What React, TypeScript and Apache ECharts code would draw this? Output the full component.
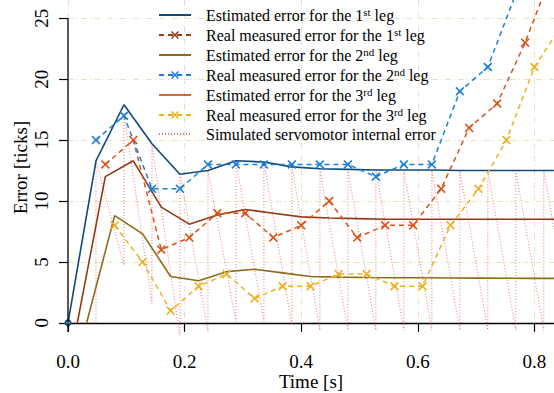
import React, { useEffect, useRef } from 'react';
import * as echarts from 'echarts';

const FONT = '"Liberation Serif", "Times New Roman", serif';

const seriesNames = [
  'Estimated error for the 1st leg',
  'Real measured error for the 1st leg',
  'Estimated error for the 2nd leg',
  'Real measured error for the 2nd leg',
  'Estimated error for the 3rd leg',
  'Real measured error for the 3rd leg',
  'Simulated servomotor internal error',
];

const xTicks = [0, 0.2, 0.4, 0.6, 0.8];
const yTicks = [0, 5, 10, 15, 20, 25];
const yAxisLineSpan = [-0.75, 25];

// Estimated error, dark blue
const estBlueTimes = [0, 0.048, 0.096, 0.144, 0.192, 0.24, 0.288, 0.336, 0.384, 0.432, 0.48, 0.528, 0.576, 0.624, 0.672, 0.72, 0.768, 0.816, 0.864];
const estBlueValues = [0, 13.3, 17.9, 14.7, 12.2, 12.5, 13.3, 13.2, 12.8, 12.65, 12.6, 12.55, 12.55, 12.55, 12.5, 12.5, 12.5, 12.5, 12.5];

// Estimated error, dark orange
const estBrownTimes = [0.016, 0.064, 0.112, 0.16, 0.208, 0.256, 0.304, 0.352, 0.4, 0.448, 0.496, 0.544, 0.592, 0.64, 0.688, 0.736, 0.784, 0.832, 0.88];
const estBrownValues = [0, 12.0, 13.3, 9.5, 8.1, 8.85, 9.3, 9.0, 8.7, 8.6, 8.55, 8.5, 8.5, 8.5, 8.5, 8.5, 8.5, 8.5, 8.5];

// Estimated error, dark yellow
const estOliveTimes = [0.032, 0.08, 0.128, 0.176, 0.224, 0.272, 0.32, 0.368, 0.416, 0.464, 0.512, 0.56, 0.608, 0.656, 0.704, 0.752, 0.8, 0.848];
const estOliveValues = [0, 8.8, 7.3, 3.8, 3.45, 4.2, 4.4, 4.1, 3.8, 3.75, 3.72, 3.7, 3.7, 3.68, 3.67, 3.66, 3.65, 3.65];

// Measured, blue crosses
const measBlueTimes = [0.048, 0.096, 0.144, 0.192, 0.24, 0.288, 0.336, 0.384, 0.432, 0.48, 0.528, 0.576, 0.624, 0.672, 0.72, 0.768];
const measBlueValues = [15, 17, 11, 11, 13, 13, 13, 13, 13, 13, 12, 13, 13, 19, 21, 27];

// Measured, orange crosses
const measOrangeTimes = [0.064, 0.112, 0.16, 0.208, 0.256, 0.304, 0.352, 0.4, 0.448, 0.496, 0.544, 0.592, 0.64, 0.688, 0.736, 0.784, 0.832];
const measOrangeValues = [13, 15, 6, 7, 9, 9, 7, 8, 10, 7, 8, 8, 11, 16, 18, 23, 29];

// Measured, yellow crosses
const measYellowTimes = [0.08, 0.128, 0.176, 0.224, 0.272, 0.32, 0.368, 0.416, 0.464, 0.512, 0.56, 0.608, 0.656, 0.704, 0.752, 0.8, 0.848];
const measYellowValues = [8, 5, 1, 3, 4, 2, 3, 3, 4, 4, 3, 3, 8, 11, 15, 21, 24.5];

// Simulated servomotor internal error (sawtooth): jump times, peaks, troughs
const sawTimes = [0.048, 0.096, 0.144, 0.192, 0.24, 0.288, 0.336, 0.384, 0.432, 0.48, 0.528, 0.576, 0.624, 0.672, 0.72, 0.768, 0.816, 0.864];
const sawPeaks = [13.3, 17.2, 14.6, 12.3, 12.5, 13.3, 13.2, 12.8, 12.6, 12.6, 12.55, 12.5, 12.5, 12.5, 12.5, 12.5, 12.5];
const sawTroughs = [0, 4.7, 1.6, -1.2, -0.7, 0.1, 0.1, -0.2, -0.6, -0.6, -0.6, -0.6, -0.6, -0.6, -0.6, -0.6, -0.6, -0.6];
const sawStart = [0, 0];

const C_EST_BLUE = '#0E4A7C';
const C_EST_BROWN = '#8E3A17';
const C_EST_OLIVE = '#8C6B1C';
const C_BLUE = '#1A7FD4';
const C_ORANGE = '#D95319';
const C_YELLOW = '#EDB120';
const C_RED = 'rgba(236,70,70,0.75)';

const CROSS = 'path://M0,1.3 L1.3,0 L5,3.7 L8.7,0 L10,1.3 L6.3,5 L10,8.7 L8.7,10 L5,6.3 L1.3,10 L0,8.7 L3.7,5 Z';

function pairs(t: number[], v: number[]) {
  return t.map((x, i) => [x, v[i]]);
}

function sawData() {
  const out: number[][] = [sawStart];
  for (let k = 0; k < sawPeaks.length; k++) {
    out.push([sawTimes[k], sawTroughs[k]]);
    out.push([sawTimes[k], sawPeaks[k]]);
  }
  out.push([sawTimes[sawTimes.length - 1], sawTroughs[sawTroughs.length - 1]]);
  return out;
}

function estSeries(name: string, data: any[], color: string) {
  return {
    name,
    type: 'line',
    data,
    symbol: 'none',
    lineStyle: { color, width: 1.6 },
    itemStyle: { color },
    z: 3,
  };
}

function measSeries(name: string, data: any[], color: string) {
  return {
    name,
    type: 'line',
    data,
    symbol: CROSS,
    symbolSize: 9,
    showSymbol: true,
    lineStyle: { color, width: 1.5, type: [5, 4] },
    itemStyle: { color },
    z: 4,
  };
}

const noSymbol = { opacity: 0, color: 'rgba(0,0,0,0)', borderWidth: 0 };

export default function App() {
  const ref = useRef<HTMLDivElement>(null);
  useEffect(() => {
    if (!ref.current) return;
    const chart = echarts.init(ref.current, null, { renderer: 'svg' });
    const blueData: any[] = pairs(estBlueTimes, estBlueValues);
    blueData[0] = { value: blueData[0], symbol: 'emptyCircle', symbolSize: 5 };
    const axisFont = { fontFamily: FONT, fontSize: 19, color: '#000' };
    const gridLine = { show: true, lineStyle: { color: '#EAE2C4', width: 1, type: [6, 3, 1, 3] } };
    const option: any = {
      animation: false,
      grid: { left: 68, right: 0, top: 0, bottom: 58, containLabel: false, outerBoundsMode: 'none' },
      xAxis: {
        type: 'value',
        min: 0,
        max: 0.8335,
        axisLine: { show: true, lineStyle: { color: '#000', width: 1.3 } },
        axisTick: { show: true, length: 9, customValues: xTicks, lineStyle: { color: '#000', width: 1.2 } },
        axisLabel: { ...axisFont, margin: 17, customValues: xTicks, formatter: (v: number) => v.toFixed(1) },
        splitLine: gridLine,
        name: 'Time [s]',
        nameLocation: 'middle',
        nameGap: 37,
        nameMoveOverlap: false,
        nameTextStyle: axisFont,
      },
      yAxis: {
        type: 'value',
        min: -1,
        max: 26.5,
        axisLine: { show: false },
        axisTick: { show: true, length: 9, customValues: yTicks, lineStyle: { color: '#000', width: 1.2 } },
        axisLabel: { ...axisFont, margin: 17, rotate: 90, customValues: yTicks },
        splitLine: gridLine,
        name: 'Error [ticks]',
        nameLocation: 'middle',
        nameGap: 38,
        nameMoveOverlap: false,
        nameTextStyle: axisFont,
      },
      legend: {
        orient: 'vertical',
        left: 158,
        top: 6,
        padding: 0,
        itemWidth: 32,
        itemHeight: 10,
        itemGap: 3,
        formatter: (name: string) =>
          '{g|}{a|' + name.replace(/(\d)(st|nd|rd)/, '$1}{s|$2}{a|') + '}',
        textStyle: {
          fontFamily: FONT,
          fontSize: 16,
          color: '#000',
          rich: {
            g: { width: 10 },
            a: { fontFamily: FONT, fontSize: 16, lineHeight: 18, color: '#000' },
            s: { fontFamily: FONT, fontSize: 11, lineHeight: 18, verticalAlign: 'top', color: '#000' },
          },
        },
        data: [
          { name: seriesNames[0], itemStyle: noSymbol },
          { name: seriesNames[1], itemStyle: { color: '#963C17' }, lineStyle: { color: '#963C17' } },
          { name: seriesNames[2], itemStyle: noSymbol },
          { name: seriesNames[3] },
          { name: seriesNames[4], itemStyle: noSymbol, lineStyle: { color: '#E0642F' } },
          { name: seriesNames[5] },
          { name: seriesNames[6], itemStyle: noSymbol },
        ],
      },
      series: [
        estSeries(seriesNames[0], blueData, C_EST_BLUE),
        measSeries(seriesNames[1], pairs(measOrangeTimes, measOrangeValues), C_ORANGE),
        estSeries(seriesNames[2], pairs(estOliveTimes, estOliveValues), C_EST_OLIVE),
        measSeries(seriesNames[3], pairs(measBlueTimes, measBlueValues), C_BLUE),
        estSeries(seriesNames[4], pairs(estBrownTimes, estBrownValues), C_EST_BROWN),
        measSeries(seriesNames[5], pairs(measYellowTimes, measYellowValues), C_YELLOW),
        {
          name: seriesNames[6],
          type: 'line',
          data: sawData(),
          symbol: 'none',
          lineStyle: { color: C_RED, width: 1, type: [1, 2] },
          itemStyle: { color: C_RED },
          z: 2,
        },
        {
          name: 'y-axis line',
          type: 'line',
          data: yAxisLineSpan.map((v) => [0, v]),
          symbol: 'none',
          clip: false,
          silent: true,
          lineStyle: { color: '#000', width: 1.3 },
          z: 5,
        },
      ],
    };
    chart.setOption(option);
    return () => chart.dispose();
  }, []);
  return <div ref={ref} style={{ position: 'absolute', left: 0, top: 0, width: 554, height: 393 }} />;
}
